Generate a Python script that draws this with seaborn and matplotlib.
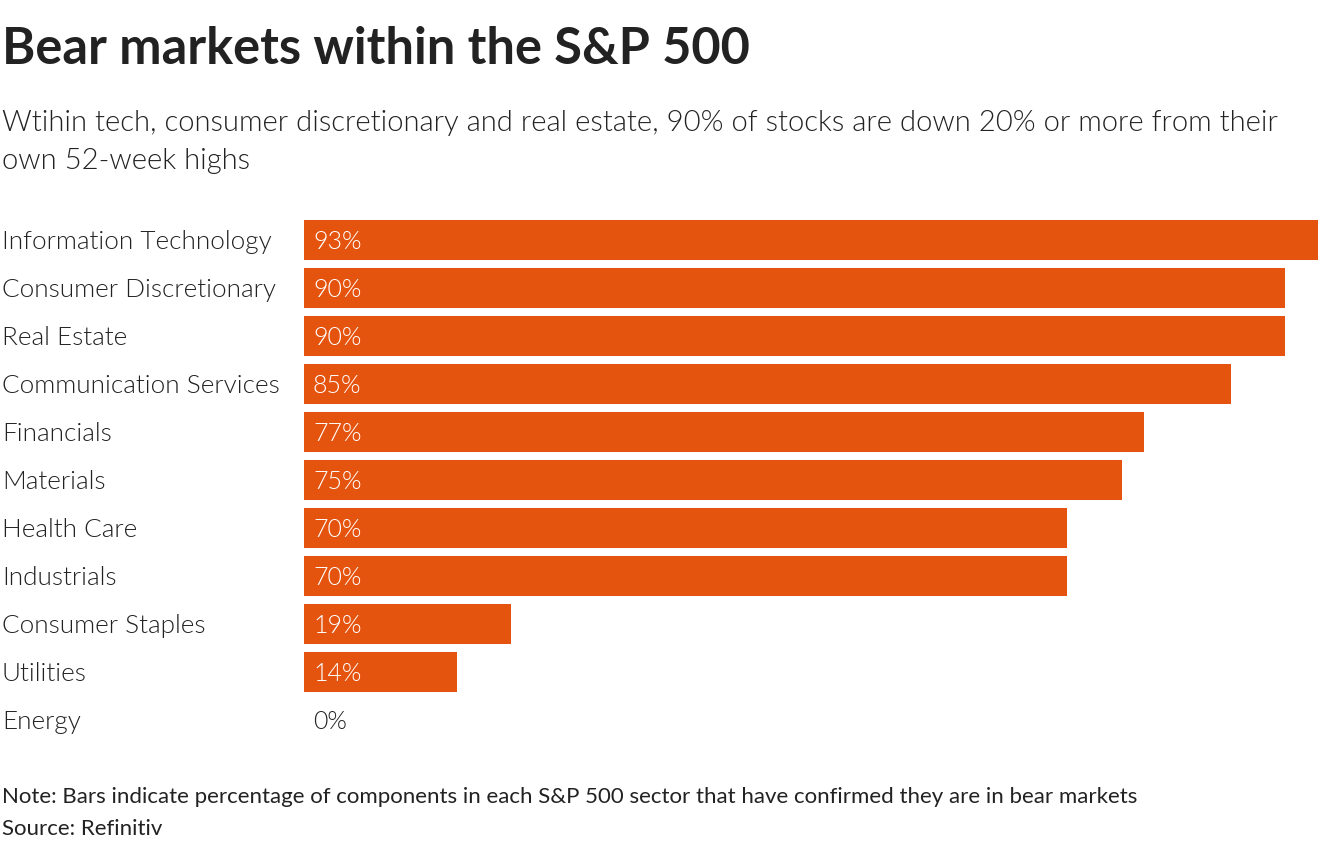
import matplotlib
matplotlib.use("Agg")
import matplotlib.pyplot as plt
import matplotlib.transforms as mtransforms
import seaborn as sns
import pandas as pd

sectors = ["Information Technology", "Consumer Discretionary", "Real Estate",
           "Communication Services", "Financials", "Materials", "Health Care",
           "Industrials", "Consumer Staples", "Utilities", "Energy"]
values = [93, 90, 90, 85, 77, 75, 70, 70, 19, 14, 0]
value_labels = ["93%", "90%", "90%", "85%", "77%", "75%", "70%", "70%", "19%", "14%", "0%"]

title = "Bear markets within the S&P 500"
subtitle = ("Wtihin tech, consumer discretionary and real estate, 90% of stocks are down 20% or more from their\n"
            "own 52-week highs")
note = "Note: Bars indicate percentage of components in each S&P 500 sector that have confirmed they are in bear markets"
source = "Source: Refinitiv"

BAR = "#E5540F"
TXT = "#222222"
W, H = 1320, 850

sns.set_theme(style="white")
plt.rcParams["font.family"] = ["Lato", "DejaVu Sans"]

df = pd.DataFrame({"sector": sectors, "value": values})

fig = plt.figure(figsize=(W / 100, H / 100), dpi=100)
fig.patch.set_facecolor("white")

ax_left, ax_right = 304, 1318
ax_top, ax_bottom = 216, 744
ax = fig.add_axes([ax_left / W, 1 - ax_bottom / H, (ax_right - ax_left) / W, (ax_bottom - ax_top) / H])

sns.barplot(data=df, y="sector", x="value", orient="h", color=BAR, saturation=1,
            width=40 / 48, ax=ax, order=sectors, linewidth=0, edgecolor="none")
ax.set_xlim(0, 93)
ax.set_ylim(len(sectors) - 0.5, -0.5)
ax.set_xlabel("")
ax.set_ylabel("")
ax.set_xticks([])
ax.set_yticks([])
for s in ax.spines.values():
    s.set_visible(False)
ax.patch.set_alpha(0)

trans_lab = mtransforms.blended_transform_factory(fig.transFigure, ax.transData)
down = mtransforms.ScaledTranslation(0, -2 / 100, fig.dpi_scale_trans)
offset = mtransforms.ScaledTranslation(9 / 100, -2 / 100, fig.dpi_scale_trans)
for i, (name, v, lab) in enumerate(zip(sectors, values, value_labels)):
    fig.text(2 / W, i, name, transform=trans_lab + down, fontsize=18.8, fontweight=300,
             color=TXT, va="center", ha="left")
    ax.text(0, i, lab, transform=ax.transData + offset, fontsize=18, fontweight=300,
            color="white" if v > 0 else TXT, va="center", ha="left")

fig.text(2 / W, 1 - 50 / H, title, fontsize=36.4, fontweight="bold", color=TXT, va="center", ha="left")
fig.text(2 / W, 1 - 142 / H, subtitle, fontsize=21.1, fontweight=300, color=TXT,
         va="center", ha="left", linespacing=1.6)
fig.text(2 / W, 1 - 797 / H, note, fontsize=16, color=TXT, va="center", ha="left")
fig.text(2 / W, 1 - 829 / H, source, fontsize=16, color=TXT, va="center", ha="left")

fig.savefig("out.png", dpi=100, facecolor="white")
